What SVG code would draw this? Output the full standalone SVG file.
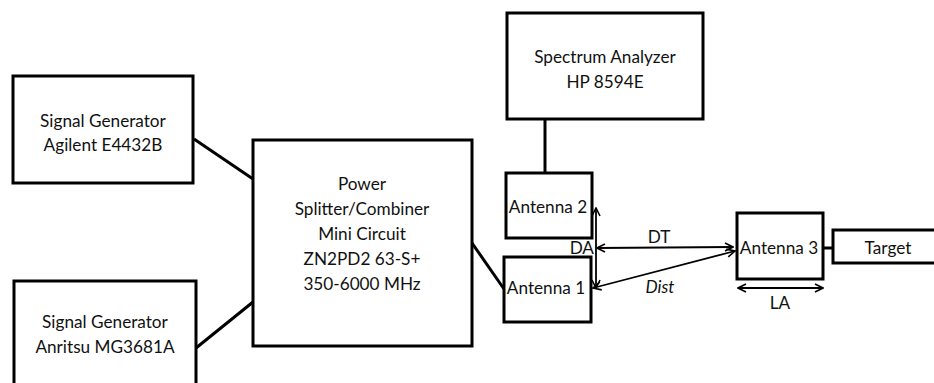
<svg xmlns="http://www.w3.org/2000/svg" width="934" height="383" viewBox="0 0 934 383">
<style>
.box{fill:#fff;stroke:#000;stroke-width:3}
.t{font-family:Lato,"Open Sans","Liberation Sans",sans-serif;font-size:17.2px;fill:#111;text-anchor:middle}
.c{stroke:#000;stroke-width:3;fill:none}
.a{stroke:#000;stroke-width:1.8;fill:none}
</style>
<defs>
<marker id="ah" viewBox="0 0 10 10" refX="9" refY="5" markerWidth="10" markerHeight="10" markerUnits="userSpaceOnUse" orient="auto-start-reverse">
<path d="M1,1 L9,5 L1,9" fill="none" stroke="#000" stroke-width="1.6"/>
</marker>
</defs>
<g id="connectors">
<line class="c" x1="194" y1="139" x2="253" y2="179"/>
<line class="c" x1="196" y1="348" x2="253" y2="302"/>
<line class="c" x1="472" y1="243" x2="504" y2="289"/>
<line class="c" x1="545" y1="119" x2="545" y2="173"/>
<line class="c" x1="823" y1="248" x2="833" y2="248"/>
<line class="a" x1="596" y1="208" x2="596" y2="288" marker-start="url(#ah)" marker-end="url(#ah)"/>
<line class="a" x1="597" y1="248" x2="733" y2="247" marker-start="url(#ah)" marker-end="url(#ah)"/>
<line class="a" x1="593" y1="288" x2="735" y2="251" marker-start="url(#ah)" marker-end="url(#ah)"/>
<line class="a" x1="738" y1="288" x2="823" y2="288" marker-start="url(#ah)" marker-end="url(#ah)"/>
<text class="t" x="594" y="254" style="text-anchor:end">DA</text>
<text class="t" x="659" y="243">DT</text>
<text class="t" x="660" y="293" font-style="italic">Dist</text>
<text class="t" x="780" y="309">LA</text>
</g>
<g id="sg1">
<rect class="box" x="13" y="76" width="180" height="107"/>
<text class="t" x="103" y="127">Signal Generator</text>
<text class="t" x="103" y="151">Agilent E4432B</text>
</g>
<g id="sg2">
<rect class="box" x="14" y="281" width="182" height="110"/>
<text class="t" x="105" y="328">Signal Generator</text>
<text class="t" x="105" y="353">Anritsu MG3681A</text>
</g>
<g id="splitter">
<rect class="box" x="253" y="140" width="219" height="206"/>
<text class="t" x="362" y="190">Power</text>
<text class="t" x="362" y="215">Splitter/Combiner</text>
<text class="t" x="362" y="240">Mini Circuit</text>
<text class="t" x="362" y="265">ZN2PD2 63-S+</text>
<text class="t" x="362" y="290">350-6000 MHz</text>
</g>
<g id="spectrum">
<rect class="box" x="507" y="13" width="196" height="106"/>
<text class="t" x="605" y="63">Spectrum Analyzer</text>
<text class="t" x="605" y="88">HP 8594E</text>
</g>
<g id="antenna2">
<rect class="box" x="506" y="173" width="86" height="65"/>
<text class="t" x="548" y="213">Antenna 2</text>
</g>
<g id="antenna1">
<rect class="box" x="504" y="257" width="87" height="65"/>
<text class="t" x="546" y="294">Antenna 1</text>
</g>
<g id="antenna3">
<rect class="box" x="737" y="213" width="86" height="66"/>
<text class="t" x="779" y="254">Antenna 3</text>
</g>
<g id="target">
<rect class="box" x="833" y="230" width="110" height="33"/>
<text class="t" x="888" y="254">Target</text>
</g>
</svg>
